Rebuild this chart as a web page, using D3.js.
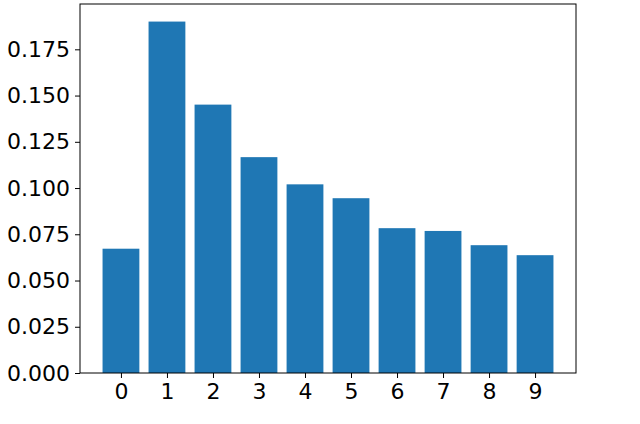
<!DOCTYPE html>
<html><head><meta charset="utf-8">
<script src="https://cdn.jsdelivr.net/npm/d3@7"></script>
<style>body{margin:0;background:#fff;}svg{display:block;}</style>
</head><body>
<script>
const categories = [0,1,2,3,4,5,6,7,8,9];
const values = [0.0672, 0.1900, 0.1451, 0.1167, 0.1020, 0.0945, 0.0783, 0.0768, 0.0691, 0.0637];
const yTicks = [0, 0.025, 0.05, 0.075, 0.1, 0.125, 0.15, 0.175];

const W = 640, H = 424;
const m = {left: 80, right: 64, top: 4, bottom: 51};
const svg = d3.select("body").append("svg").attr("width", W).attr("height", H);
const x = d3.scaleLinear().domain([-0.89, 9.89]).range([m.left, W - m.right]);
const y = d3.scaleLinear().domain([0, 0.1995]).range([H - m.bottom, m.top]);
const bw = 0.8;

svg.append("g").selectAll("rect").data(values).join("rect")
  .attr("x", (d,i) => x(categories[i] - bw/2))
  .attr("width", (d,i) => x(categories[i] + bw/2) - x(categories[i] - bw/2))
  .attr("y", d => y(d))
  .attr("height", d => y(0) - y(d))
  .attr("fill", "#1f77b4");

const font = "DejaVu Sans";
const fs = "22px";
const xa = svg.append("g").attr("transform", `translate(0,${H - m.bottom})`)
  .call(d3.axisBottom(x).tickValues(categories).tickFormat(d3.format("d")).tickSize(5).tickPadding(5));
const ya = svg.append("g").attr("transform", `translate(${m.left},0)`)
  .call(d3.axisLeft(y).tickValues(yTicks).tickFormat(d3.format(".3f")).tickSize(5).tickPadding(5));
[xa, ya].forEach(a => {
  a.select(".domain").remove();
  a.selectAll("line").attr("stroke", "#000").attr("stroke-width", 1);
  a.selectAll("text").attr("font-family", font).attr("font-size", fs).attr("fill", "#000");
});
svg.append("rect").attr("x", m.left).attr("y", m.top)
  .attr("width", W - m.right - m.left).attr("height", H - m.bottom - m.top)
  .attr("fill", "none").attr("stroke", "#000").attr("stroke-width", 1);
</script>
</body></html>
